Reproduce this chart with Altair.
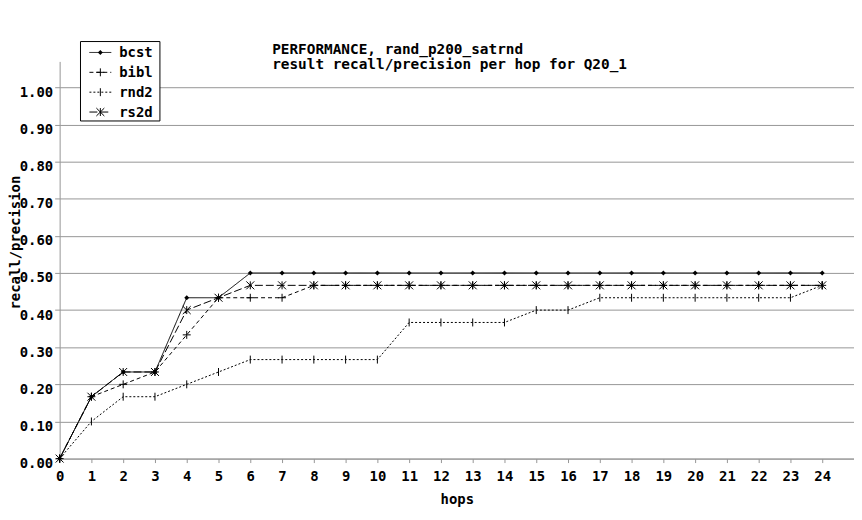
import altair as alt
import pandas as pd

hops = list(range(25))
series_names = ["bcst", "bibl", "rnd2", "rs2d"]
bcst = [0.0, 0.1667, 0.2333, 0.2333, 0.4333, 0.4333, 0.5, 0.5, 0.5, 0.5, 0.5, 0.5, 0.5,
        0.5, 0.5, 0.5, 0.5, 0.5, 0.5, 0.5, 0.5, 0.5, 0.5, 0.5, 0.5]
bibl = [0.0, 0.1667, 0.2, 0.2333, 0.3333, 0.4333, 0.4333, 0.4333, 0.4667, 0.4667, 0.4667,
        0.4667, 0.4667, 0.4667, 0.4667, 0.4667, 0.4667, 0.4667, 0.4667, 0.4667, 0.4667,
        0.4667, 0.4667, 0.4667, 0.4667]
rnd2 = [0.0, 0.1, 0.1667, 0.1667, 0.2, 0.2333, 0.2667, 0.2667, 0.2667, 0.2667, 0.2667,
        0.3667, 0.3667, 0.3667, 0.3667, 0.4, 0.4, 0.4333, 0.4333, 0.4333, 0.4333, 0.4333,
        0.4333, 0.4333, 0.4667]
rs2d = [0.0, 0.1667, 0.2333, 0.2333, 0.4, 0.4333, 0.4667, 0.4667, 0.4667, 0.4667, 0.4667,
        0.4667, 0.4667, 0.4667, 0.4667, 0.4667, 0.4667, 0.4667, 0.4667, 0.4667, 0.4667,
        0.4667, 0.4667, 0.4667, 0.4667]
y_ticks = [0.0, 0.1, 0.2, 0.3, 0.4, 0.5, 0.6, 0.7, 0.8, 0.9, 1.0]
title_lines = ["PERFORMANCE, rand_p200_satrnd", "result recall/precision per hop for Q20_1"]

series_values = {"bcst": bcst, "bibl": bibl, "rnd2": rnd2, "rs2d": rs2d}
rows = []
for name in series_names:
    for h, v in zip(hops, series_values[name]):
        rows.append({"series": name, "hop": h, "value": v})
df = pd.DataFrame(rows)

FONT = "DejaVu Sans Mono"
GRAY = "#969696"
dashes = {"bcst": [1, 0], "bibl": [4, 3], "rnd2": [2, 2], "rs2d": [8, 3]}
shapes = {
    "bcst": "diamond",
    "bibl": "M-1,0L1,0M0,-1L0,1",
    "rnd2": "M0,-1L0,1",
    "rs2d": "M-1,-1L1,1M-1,1L1,-1M0,-1L0,1",
}

x_enc = alt.X("hop:Q", scale=alt.Scale(domain=[0, 25], nice=False, zero=False),
              axis=alt.Axis(values=hops, title="hops", grid=False, format="d",
                            labelBaseline="alphabetic", labelPadding=18, tickSize=4,
                            titleY=45, titleBaseline="alphabetic",
                            labelFlush=False, labelOverlap=False))
y_enc = alt.Y("value:Q", scale=alt.Scale(domain=[0, 1.07], nice=False),
              axis=alt.Axis(values=y_ticks, format=".2f", title="recall/precision",
                            grid=True, tickSize=5, labelPadding=2,
                            labelBaseline="alphabetic", labelOffset=9,
                            labelOverlap=False,
                            titleX=-40, titleY=182, titleAngle=270,
                            titleBaseline="alphabetic", titleAlign="center"))

dash_scale = alt.Scale(domain=series_names, range=[dashes[n] for n in series_names])
shape_scale = alt.Scale(domain=series_names, range=[shapes[n] for n in series_names])

base = alt.Chart(df)
lines = base.mark_line(color="black", strokeWidth=1).encode(
    x=x_enc, y=y_enc,
    strokeDash=alt.StrokeDash("series:N", scale=dash_scale, legend=None),
)
pts_filled = base.transform_filter(alt.datum.series == "bcst").mark_point(
    filled=True, color="black", size=25, opacity=1
).encode(x=x_enc, y=y_enc,
         shape=alt.Shape("series:N", scale=shape_scale, legend=None))
pts_open = base.transform_filter(alt.datum.series != "bcst").mark_point(
    filled=False, color="black", size=64, strokeWidth=1, opacity=1
).encode(x=x_enc, y=y_enc,
         shape=alt.Shape("series:N", scale=shape_scale, legend=None))

dummy = alt.Chart(pd.DataFrame({"a": [0]}))
legend_box = dummy.mark_rect(fill="white", stroke="black", strokeWidth=1).encode(
    x=alt.value(21), x2=alt.value(101), y=alt.value(-20), y2=alt.value(60))

legend_layers = []
for i, name in enumerate(series_names):
    yy = -9 + 20 * i
    legend_layers.append(dummy.mark_rule(color="black", strokeWidth=1).encode(
        x=alt.value(30), x2=alt.value(52), y=alt.value(yy),
        strokeDash=alt.value(dashes[name])))
    legend_layers.append(dummy.mark_point(
        filled=(name == "bcst"), color="black", opacity=1,
        size=25 if name == "bcst" else 64, strokeWidth=1).encode(
        x=alt.value(41), y=alt.value(yy), shape=alt.value(shapes[name])))
    legend_layers.append(dummy.mark_text(
        font=FONT, fontSize=14, fontWeight="bold", align="left", baseline="middle",
        color="black").encode(x=alt.value(60), y=alt.value(yy + 1), text=alt.value(name)))

title_layers = []
for i, line in enumerate(title_lines):
    title_layers.append(dummy.mark_text(
        font=FONT, fontSize=14.5, fontWeight="bold", align="left", baseline="alphabetic",
        color="black").encode(x=alt.value(214), y=alt.value(-7 + 14.5 * i), text=alt.value(line)))

chart = alt.layer(lines, pts_filled, pts_open, legend_box, *legend_layers, *title_layers).properties(
    width=800, height=400,
    background="white",
    autosize=alt.AutoSizeParams(type="none"),
    padding={"left": 52, "top": 52, "right": 0, "bottom": 50},
).configure_view(stroke=None).configure_axis(
    labelFont=FONT, titleFont=FONT, labelFontSize=14, titleFontSize=14,
    labelFontWeight="bold", titleFontWeight="bold",
    labelColor="black", titleColor="black",
    domainColor=GRAY, tickColor=GRAY, gridColor=GRAY, gridWidth=1, domainWidth=1,
    gridOpacity=1, domainOpacity=1, tickOpacity=1,
)

chart.save("out.html", embed_options={"renderer": "svg", "actions": False})
